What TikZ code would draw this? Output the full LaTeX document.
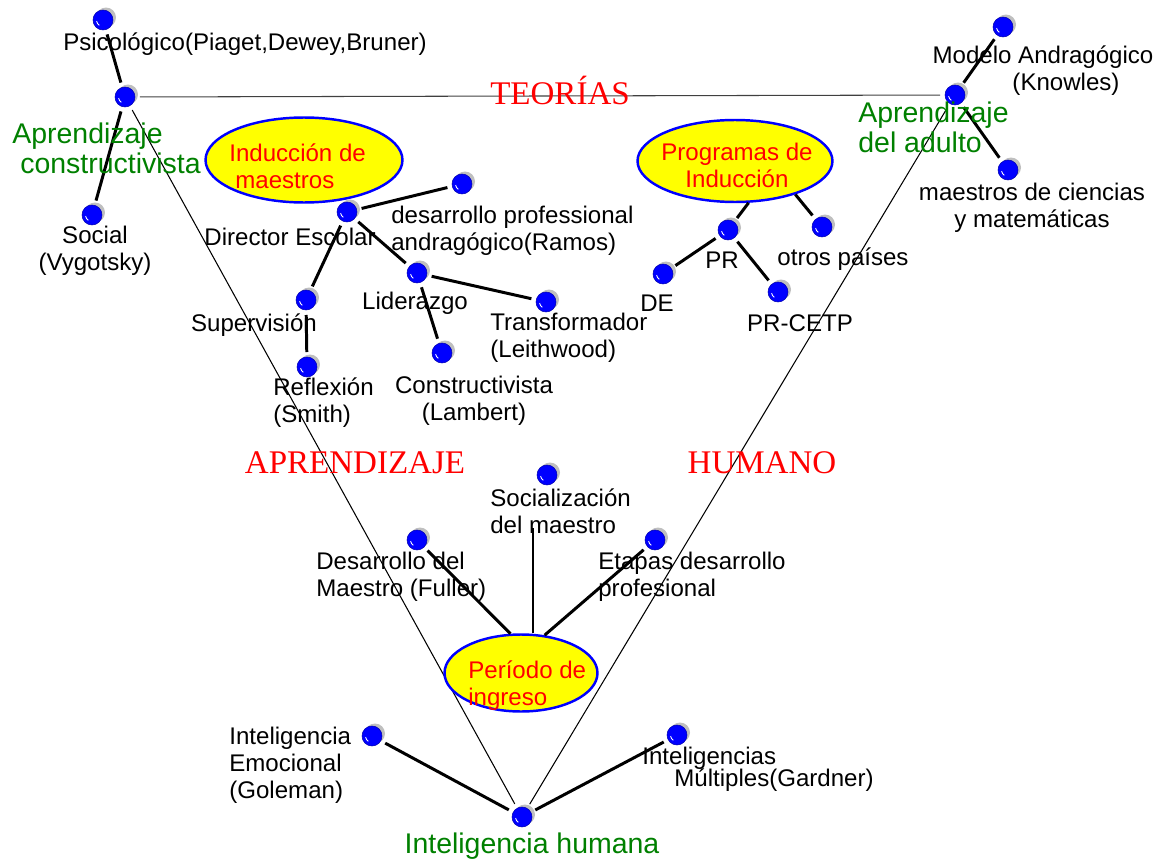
\documentclass[tikz,border=0pt]{standalone}
\usepackage{fontspec}
\setmainfont{Liberation Sans}
\newfontfamily\titfont{Liberation Serif}
\usepackage{xcolor}
\usetikzlibrary{shapes.geometric,shadows}
\definecolor{grpc}{HTML}{008000}
\definecolor{titc}{HTML}{FF0000}
\definecolor{ballc}{HTML}{0000FF}
\definecolor{ovalc}{HTML}{FFFF00}

\begin{document}
\begin{tikzpicture}[x=0.02cm, y=-0.02cm,
    every node/.style={font=\fontsize{13.7}{15.3}\selectfont, inner sep=0pt},
    ball/.style={circle, fill=ballc, draw=ballc!70!black, line width=0.3pt,
                 minimum size=0.4cm, outer sep=0.1cm,
                 drop shadow={shadow xshift=0.06cm, shadow yshift=0.05cm, fill=black!25, opacity=1},
                 path picture={\draw[white, line width=0.5pt]
                   ([shift={(190:0.13cm)}]path picture bounding box.center)
                   arc[start angle=190, end angle=235, radius=0.13cm];}},
    oval/.style={ellipse, draw=ballc, line width=1.4pt, fill=ovalc},
    ovtxt/.style={text=titc},
    grp/.style={font=\fontsize{16.2}{17.2}\selectfont, text=grpc},
    titl/.style={font=\titfont\fontsize{18.8}{21}\selectfont, text=titc},
    link/.style={line width=1.7pt},
    vline/.style={line width=0.6pt}]
  \useasboundingbox (0,0) rectangle (1164,862);
  % concept balls
  \foreach \n/\x/\y in {psi/103/20, cons/125/97, soc/92/215, mod/1003/27, adu/955/95, mcm/1008/170,
      dir/347/212, dpa/462/184, lid/417/273, sup/306/300, ref/307/367, tra/546/302, cst/442/353,
      pr/728/230, de/663/274, cetp/778/292, otr/822/227,
      sm/547/475, dm/417/540, edp/655/540, iem/372/736, imu/677/735, ihu/522/817}
    {\node[ball] (\n) at (\x,\y) {};}
  % the V and the top bar
  \draw[vline, black!75] (cons) -- (adu);
  \draw[vline] (cons) -- (ihu);
  \draw[vline] (adu) -- (ihu);
  % ovals
  \node[oval, minimum width=3.94cm, minimum height=1.7cm] (indu) at (304,160) {};
  \node[oval, minimum width=3.9cm, minimum height=1.64cm] (prog) at (735,161) {};
  \node[oval, minimum width=3.06cm, minimum height=1.54cm] (ingr) at (521,673) {};
  % links
  \foreach \a/\b in {psi/cons, cons/soc, mod/adu, adu/mcm, dir/dpa, dir/lid, dir/sup, sup/ref,
      lid/tra, lid/cst, pr/de, pr/cetp, iem/ihu, imu/ihu}
    {\draw[link] (\a) -- (\b);}
  \draw[link] (prog.-72) -- (pr);
  \draw[link] (prog.-29) -- (otr);
  \draw[link] (dm) -- (ingr.105);
  \draw[link] (edp) -- (ingr.58);
  \coordinate (smend) at (533,528);
  \draw[link] (smend) -- (smend |- ingr.north);
  % labels
  \node (psit) at (245,44) {Psicológico(Piaget,Dewey,Bruner)};
  \node[grp, align=left, anchor=west] (const) at (12,148) {Aprendizaje\\\hspace*{0.16cm}constructivista};
  \node[align=center] (soct) at (95,251) {Social\\(Vygotsky)};
  \node[titl] (teor) at (560,90) {TEORÍAS};
  \node[align=center] (modt) at (1043,71) {Modelo Andragógico\\\hspace*{0.92cm}(Knowles)};
  \node[grp, align=left, anchor=west] (adut) at (858,127) {Aprendizaje\\del adulto};
  \node[align=center] (mcmt) at (1032,208) {maestros de ciencias\\y matemáticas};
  \node[ovtxt, align=left, anchor=west] (indut) at (229,166) {Inducción de\\\hspace*{0.12cm}maestros};
  \node (dirt) at (290,237) {Director Escolar};
  \node[align=left, anchor=west] (dpat) at (391,231) {desarrollo professional\\andragógico(Ramos)};
  \node (lidt) at (415,303) {Liderazgo};
  \node (supt) at (254,325) {Supervisión};
  \node[align=left, anchor=west] (reft) at (273,403) {Reflexión\\(Smith)};
  \node[align=left, anchor=west] (trat) at (490,338) {Transformador\\(Leithwood)};
  \node[align=center] (cstt) at (474,401) {Constructivista\\(Lambert)};
  \node[ovtxt, align=center] (progt) at (737,165) {Programas de\\Inducción};
  \node (prt) at (722,260) {PR};
  \node (det) at (657,303) {DE};
  \node (cetpt) at (800,323) {PR-CETP};
  \node (otrt) at (843,259) {otros países};
  \node[titl] (apre) at (355,463) {APRENDIZAJE};
  \node[titl] (huma) at (762,463) {HUMANO};
  \node[align=left, anchor=west] (smt) at (490,511) {Socialización\\del maestro};
  \node[align=left, anchor=west] (dmt) at (316,577) {Desarrollo del\\Maestro (Fuller)};
  \node[align=left, anchor=west] (edpt) at (598,577) {Etapas desarrollo\\profesional};
  \node[ovtxt, align=left, anchor=west] (ingrt) at (468,686) {Período de\\ingreso};
  \node[align=left, anchor=west] (iemt) at (229,765) {Inteligencia\\Emocional\\(Goleman)};
  \node[align=left, anchor=west] (imut) at (642,769) {Inteligencias\\[-2.8pt]\hspace*{0.64cm}Múltiples(Gardner)};
  \node[grp] (ihut) at (532,846) {Inteligencia humana};
\end{tikzpicture}
\end{document}
